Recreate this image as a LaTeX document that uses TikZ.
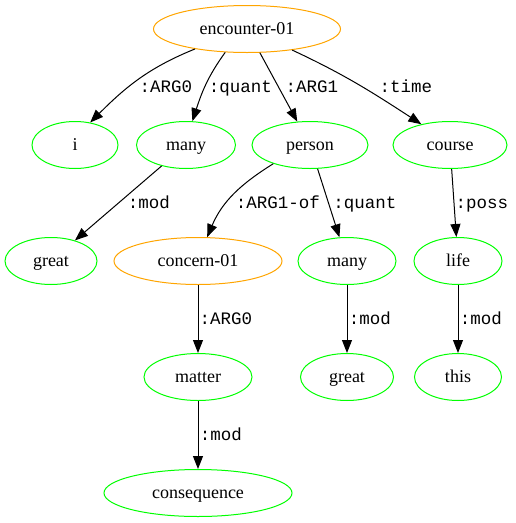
\documentclass[tikz,border=0pt]{standalone}
\usepackage{fontspec}
\setmainfont{Liberation Serif}
\setmonofont{Liberation Mono}
\usepackage{tikz}
\usetikzlibrary{arrows.meta, shapes.geometric}
\definecolor{framecol}{RGB}{255,165,0}
\definecolor{conceptcol}{RGB}{0,255,0}

\begin{document}
\begin{tikzpicture}[>={Triangle[length=13pt,width=10pt]}, x=1pt, y=1pt, line width=1pt,
  concept/.style={ellipse, draw=conceptcol, inner xsep=0pt, inner ysep=0pt, minimum width=#1pt, minimum height=47pt, text height=13pt, text depth=2.5pt, font=\fontsize{18}{20}\selectfont},
  concept/.default=86,
  frame/.style={concept=#1, draw=framecol},
  role/.style={anchor=base, inner sep=0pt, font=\ttfamily\fontsize{17.5}{20}\selectfont}]

\useasboundingbox (0,0) rectangle (515,-523);

\node[frame=187] (A) at (247,-29) {encounter-01};
\node[concept=86] (B1) at (75,-145) {i};
\node[concept=99] (B2) at (186,-145) {many};
\node[concept=116] (B3) at (310,-145) {person};
\node[concept=114] (B4) at (450,-145) {course};
\node[concept=92] (C1) at (51,-261) {great};
\node[frame=168] (C2) at (198,-261) {concern-01};
\node[concept=98] (C3) at (347,-261) {many};
\node[concept=88] (C4) at (458,-261) {life};
\node[concept=108] (D1) at (198,-377) {matter};
\node[concept=93] (D2) at (347,-377) {great};
\node[concept=87] (D3) at (458,-377) {this};
\node[concept=188] (E1) at (198,-493) {consequence};

\node[role] (L1) at (166,-92.5) {:ARG0};  \node[role] (L2) at (240.5,-92.5) {:quant};
\node[role] (L3) at (312,-92.5) {:ARG1};  \node[role] (L4) at (406,-92.5) {:time};
\node[role] (L5) at (149,-208) {:mod};    \node[role] (L6) at (278,-208) {:ARG1-of};
\node[role] (L7) at (365,-208) {:quant};  \node[role] (L8) at (482,-208) {:poss};
\node[role] (L9) at (226,-324) {:ARG0};   \node[role] (L10) at (370,-324) {:mod};
\node[role] (L11) at (481,-324) {:mod};   \node[role] (L12) at (221,-440) {:mod};

\draw [->] (A.201) to[out=202,in=45] (B1.56);
\draw [->] (A.227) to[out=234,in=72] (B2.75);
\draw [->] (A)--(B3);
\draw [->] (A.-25) to[out=-25,in=147] (B4.144);
\draw [->] (B2)--(C1);
\draw [->] (B3.207) to[out=212,in=67] (C2.69);
\draw [->] (B3)--(C3);
\draw [->] (B4)--(C4);
\draw [->] (C2)--(D1);
\draw [->] (C3)--(D2);
\draw [->] (C4)--(D3);
\draw [->] (D1)--(E1);

\end{tikzpicture}
\end{document}
